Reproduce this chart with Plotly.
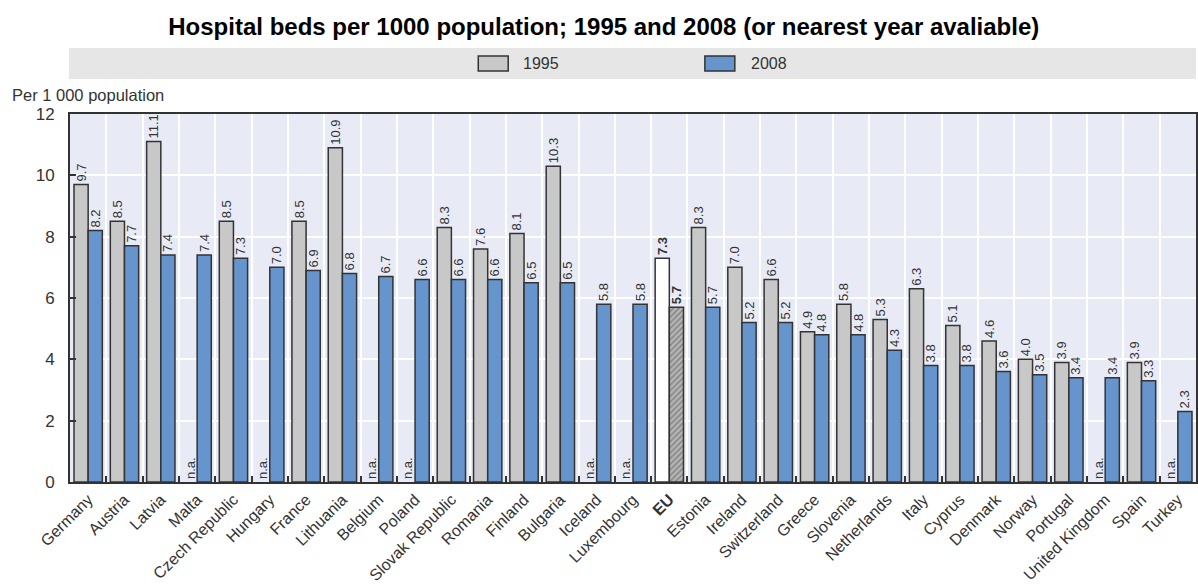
import plotly.graph_objects as go

countries = ["Germany", "Austria", "Latvia", "Malta", "Czech Republic", "Hungary", "France",
             "Lithuania", "Belgium", "Poland", "Slovak Republic", "Romania", "Finland",
             "Bulgaria", "Iceland", "Luxembourg", "EU", "Estonia", "Ireland", "Switzerland",
             "Greece", "Slovenia", "Netherlands", "Italy", "Cyprus", "Denmark", "Norway",
             "Portugal", "United Kingdom", "Spain", "Turkey"]
beds_1995 = [9.7, 8.5, 11.1, None, 8.5, None, 8.5, 10.9, None, None, 8.3, 7.6, 8.1, 10.3,
             None, None, 7.3, 8.3, 7.0, 6.6, 4.9, 5.8, 5.3, 6.3, 5.1, 4.6, 4.0, 3.9, None,
             3.9, None]
beds_2008 = [8.2, 7.7, 7.4, 7.4, 7.3, 7.0, 6.9, 6.8, 6.7, 6.6, 6.6, 6.6, 6.5, 6.5, 5.8,
             5.8, 5.7, 5.7, 5.2, 5.2, 4.8, 4.8, 4.3, 3.8, 3.8, 3.6, 3.5, 3.4, 3.4, 3.3, 2.3]
y_ticks = [0, 2, 4, 6, 8, 10, 12]

GRAY = "#c8c8c8"
BLUE = "#6694cd"
OUTLINE = "#333333"
TXT = "#333333"
NARROW = "Liberation Sans Narrow, Arial Narrow, Liberation Sans, Arial, sans-serif"

x_labels = ["<b>EU</b>" if c == "EU" else c for c in countries]


def fmt(v, c):
    if v is None:
        return "n.a."
    s = f"{v:.1f}"
    return f"<b>{s}</b>" if c == "EU" else s


y95 = [0 if v is None else v for v in beds_1995]
t95 = [fmt(v, c) for v, c in zip(beds_1995, countries)]
c95 = ["#ffffff" if c == "EU" else GRAY for c in countries]
lw95 = [0 if v is None else 1.5 for v in beds_1995]

t08 = [fmt(v, c) for v, c in zip(beds_2008, countries)]
c08 = ["#b4b4b4" if c == "EU" else BLUE for c in countries]
p08 = ["/" if c == "EU" else "" for c in countries]

fig = go.Figure()
fig.add_trace(go.Bar(
    x=x_labels, y=y95, name="1995", text=t95, textposition="outside", textangle=-90,
    constraintext="none", cliponaxis=False,
    textfont=dict(family=NARROW, size=13, color=TXT),
    marker=dict(color=c95, line=dict(color=OUTLINE, width=lw95)),
    hoverinfo="x+y",
))
fig.add_trace(go.Bar(
    x=x_labels, y=beds_2008, name="2008", text=t08, textposition="outside", textangle=-90,
    constraintext="none", cliponaxis=False,
    textfont=dict(family=NARROW, size=13, color=TXT),
    marker=dict(color=c08, line=dict(color=OUTLINE, width=1.5),
                pattern=dict(shape=p08, fgcolor="#555555", bgcolor="#d8d8d8", size=4, solidity=0.3)),
    hoverinfo="x+y",
))

W, H = 1198, 584
ML, MR, MT, MB = 70, 0, 114, 102
PW, PH = W - ML - MR, H - MT - MB


def px_x(p):
    return (p - ML) / PW


def px_y(p):
    return (H - MB - p) / PH


shapes = [
    dict(type="rect", xref="paper", yref="paper", x0=px_x(69), x1=1.0,
         y0=px_y(79), y1=px_y(48), fillcolor="#e6e6e6", line=dict(width=0), layer="below"),
    dict(type="rect", xref="paper", yref="paper", x0=px_x(479), x1=px_x(509),
         y0=px_y(71), y1=px_y(56), fillcolor=GRAY, line=dict(color=OUTLINE, width=1.5)),
    dict(type="rect", xref="paper", yref="paper", x0=px_x(706), x1=px_x(736),
         y0=px_y(71), y1=px_y(56), fillcolor=BLUE, line=dict(color=OUTLINE, width=1.5)),
]
annotations = [
    dict(text="1995", xref="paper", yref="paper", x=px_x(522), y=px_y(64), xanchor="left",
         yanchor="middle", showarrow=False, font=dict(family=NARROW, size=16, color=TXT)),
    dict(text="2008", xref="paper", yref="paper", x=px_x(750), y=px_y(64), xanchor="left",
         yanchor="middle", showarrow=False, font=dict(family=NARROW, size=16, color=TXT)),
    dict(text="Per 1 000 population", xref="paper", yref="paper", x=px_x(10), y=px_y(95),
         xanchor="left", yanchor="middle", showarrow=False,
         font=dict(family=NARROW, size=16.5, color=TXT)),
]

fig.update_layout(
    width=W, height=H,
    margin=dict(l=ML, r=MR, t=MT, b=MB, pad=0),
    paper_bgcolor="white", plot_bgcolor="#e8ebf6",
    barmode="group", bargap=0.22, bargroupgap=0.0,
    showlegend=False,
    title=dict(text="<b>Hospital beds per 1000 population; 1995 and 2008 (or nearest year avaliable)</b>",
               x=0.504, xanchor="center", xref="container", y=1 - 27 / H, yanchor="middle",
               yref="container",
               font=dict(family="Liberation Sans, Arial, sans-serif", size=24, color="black")),
    shapes=shapes, annotations=annotations,
    xaxis=dict(type="category", tickangle=-45, tickson="boundaries", ticks="inside",
               ticklen=6, tickcolor=OUTLINE, tickwidth=1.5,
               showgrid=True, gridcolor="white", gridwidth=1.5,
               showline=True, linecolor=OUTLINE, linewidth=2, mirror=True,
               tickfont=dict(family=NARROW, size=16, color=TXT)),
    yaxis=dict(range=[0, 12], tickvals=y_ticks, ticks="inside", ticklen=6,
               tickcolor=OUTLINE, tickwidth=1.5,
               showgrid=True, gridcolor="white", gridwidth=1.5, zeroline=False,
               showline=True, linecolor=OUTLINE, linewidth=2, mirror=True,
               ticklabelstandoff=10,
               tickfont=dict(family=NARROW, size=17, color=TXT)),
)

fig.write_html("out.html")
